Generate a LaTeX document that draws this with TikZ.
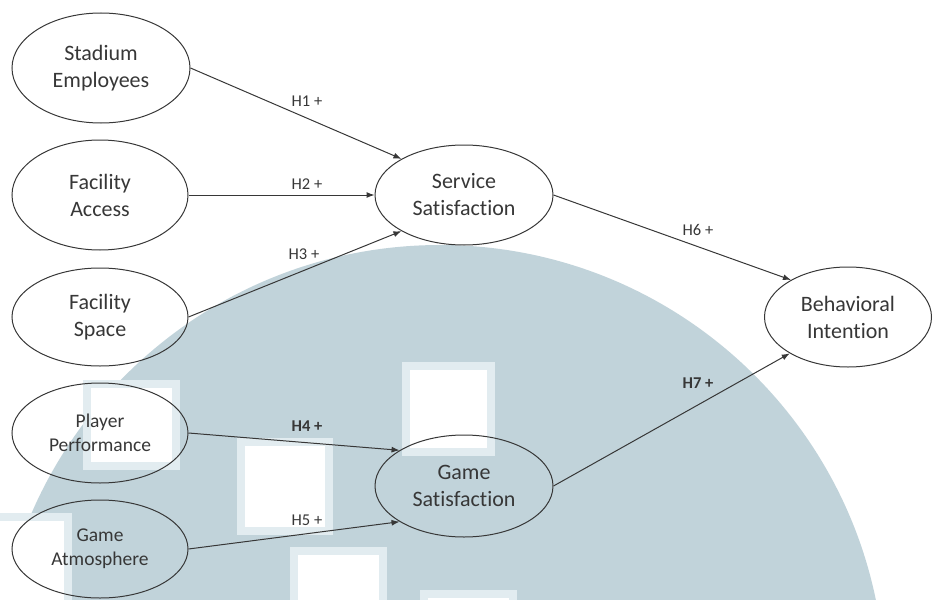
\documentclass[tikz,border=0pt]{standalone}
\usepackage{fontspec}
\setmainfont{Carlito}[Ligatures=NoCommon]
\usetikzlibrary{shapes.geometric,arrows.meta}
\definecolor{wmgray}{RGB}{193,211,218}
\definecolor{wmfringe}{RGB}{226,236,240}
\definecolor{ink}{RGB}{55,55,55}
\begin{document}
\begin{tikzpicture}[x=1pt,y=-1pt,
  construct/.style={ellipse, draw=ink, line width=1pt, inner sep=0pt, align=center,
    text=ink, font=\fontsize{22}{27}\selectfont},
  smallconstruct/.style={construct, font=\fontsize{19.5}{24}\selectfont},
  link/.style={draw=ink, line width=1pt, -{Latex[length=8pt,width=6pt]}},
  hyp/.style={text=ink, inner sep=0pt, font=\fontsize{16.5}{20}\selectfont},
  hypbold/.style={hyp, font=\fontsize{16.5}{20}\selectfont\bfseries}]

\useasboundingbox (0,0) rectangle (933,599);

% watermark emblem in the background
\begin{scope}
  \clip (0,0) rectangle (933,599);
  \fill[wmgray] (440,690) circle[radius=445pt];
  \foreach \xa/\ya/\xb/\yb in {402/362/495/456, 237/438/333/535, 290/547/387/610,
      420/590/517/610, 83/380/180/470, -10/513/72/610}{
    \fill[wmfringe] (\xa,\ya) rectangle (\xb,\yb);
    \fill[white] (\xa+8,\ya+8) rectangle (\xb-8,\yb-8);
  }
\end{scope}

% constructs
\node[construct, minimum width=178pt, minimum height=110pt] (emp) at (101,68) {Stadium\\Employees};
\node[construct, minimum width=176pt, minimum height=110pt] (acc) at (100,195) {Facility\\Access};
\node[construct, minimum width=176pt, minimum height=98pt] (spc) at (100,317) {Facility\\Space};
\node[smallconstruct, minimum width=176pt, minimum height=100pt] (perf) at (100,433) {Player\\Performance};
\node[smallconstruct, minimum width=176pt, minimum height=98pt] (atm) at (100,549) {Game\\Atmosphere};
\node[construct, minimum width=178pt, minimum height=100pt] (serv) at (464,195) {Service\\Satisfaction};
\node[construct, minimum width=178pt, minimum height=102pt] (game) at (464,486) {Game\\Satisfaction};
\node[construct, minimum width=167pt, minimum height=100pt] (beh) at (848,317) {Behavioral\\Intention};

% hypothesised paths
\draw[link] (emp.east) -- (serv.150);
\draw[link] (acc.east) -- (serv.west);
\draw[link] (spc.east) -- (serv.210);
\draw[link] (perf.east) -- (game.151);
\draw[link] (atm.east) -- (game.209);
\draw[link] (serv.east) -- (beh.147);
\draw[link] (game.east) -- (beh.212);

% path labels
\node[hyp] (h1) at (307,101) {H1 +};
\node[hyp] (h2) at (307,184) {H2 +};
\node[hyp] (h3) at (304,254) {H3 +};
\node[hypbold] (h4) at (307,426) {H4 +};
\node[hyp] (h5) at (307,520) {H5 +};
\node[hyp] (h6) at (698,230) {H6 +};
\node[hypbold] (h7) at (698,383) {H7 +};
\end{tikzpicture}
\end{document}
